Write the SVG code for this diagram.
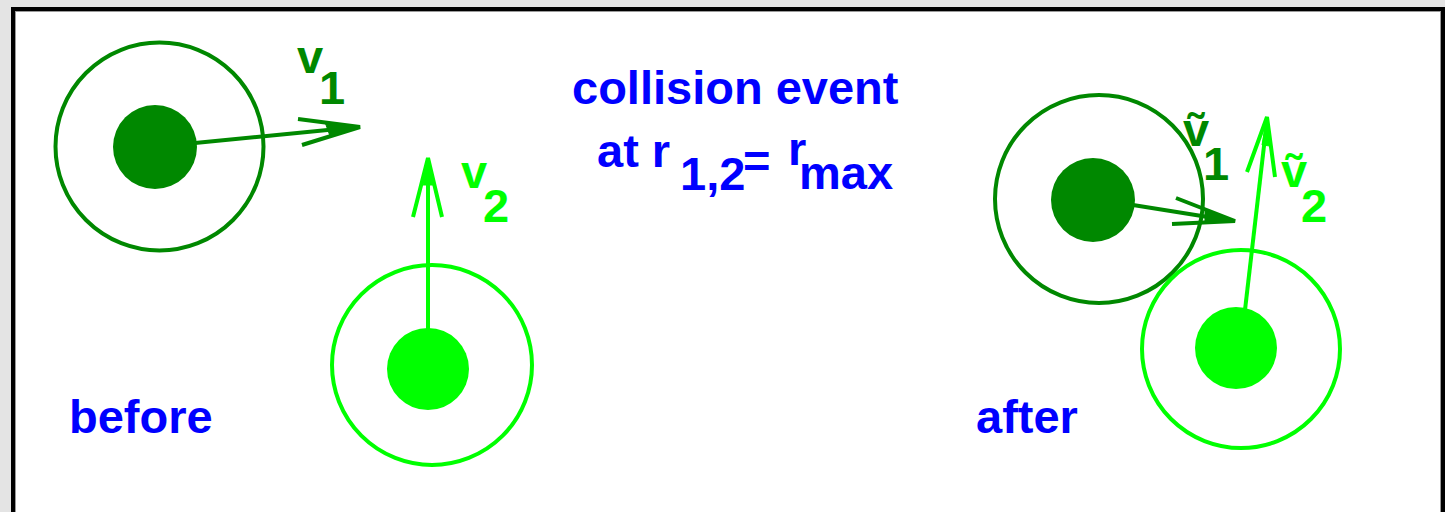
<svg xmlns="http://www.w3.org/2000/svg" width="1445" height="512" viewBox="0 0 1445 512">
<style>
.t{font-family:"Liberation Sans","DejaVu Sans",Arial,sans-serif;font-weight:bold;font-size:47px}
.blue{fill:#0000ff}
.dg{fill:#008800}
.lg{fill:#00ff00}
.ring{fill:none;stroke-width:4}
.ln{fill:none;stroke-width:4;stroke-linecap:butt;stroke-linejoin:miter}
</style>
<rect x="0" y="0" width="1445" height="512" fill="#e4e4e4"/>
<rect x="13" y="9" width="1430" height="600" fill="#ffffff" stroke="#000000" stroke-width="4"/>
<rect x="15.5" y="11.5" width="1425" height="600" fill="none" stroke="#9a9a9a" stroke-width="1"/>

<g id="before-particle1">
  <circle class="ring" cx="159.5" cy="146.5" r="104" stroke="#008800"/>
  <circle cx="155" cy="147" r="42" fill="#008800"/>
</g>
<g id="before-particle2">
  <circle class="ring" cx="432" cy="365" r="100" stroke="#00ff00"/>
  <circle cx="428" cy="369" r="41" fill="#00ff00"/>
</g>
<g id="after-particle1">
  <circle class="ring" cx="1099" cy="199" r="104" stroke="#008800"/>
  <circle cx="1093" cy="200" r="42" fill="#008800"/>
</g>
<g id="after-particle2">
  <circle class="ring" cx="1241" cy="349" r="99" stroke="#00ff00"/>
  <circle cx="1236" cy="348" r="41" fill="#00ff00"/>
</g>

<g id="connectors">
  <g stroke="#008800" class="ln">
    <line x1="195" y1="143" x2="358" y2="127"/>
    <polyline points="298,119 360,127 302,145"/>
    <path d="M325,122 L360,127 L330,136 Z" fill="#008800" stroke-width="1"/>
  </g>
  <g stroke="#00ff00" class="ln">
    <line x1="428" y1="330" x2="428" y2="160"/>
    <polyline points="413,217 428,158 442,217"/>
    <path d="M423,185 L428,158 L433,185 Z" fill="#00ff00" stroke-width="1"/>
  </g>
  <g stroke="#008800" class="ln">
    <line x1="1133" y1="205" x2="1233" y2="221"/>
    <polyline points="1176,198 1235,221 1172,224"/>
    <path d="M1205,210 L1235,221 L1205,222 Z" fill="#008800" stroke-width="1"/>
  </g>
  <g stroke="#00ff00" class="ln">
    <line x1="1245" y1="310" x2="1267" y2="120"/>
    <polyline points="1247,172 1267,117 1275,177"/>
    <path d="M1262,145 L1267,117 L1270,146 Z" fill="#00ff00" stroke-width="1"/>
  </g>
</g>

<g id="labels">
  <text class="t dg" x="297" y="73">v</text>
  <text class="t dg" x="319" y="104">1</text>
  <text class="t lg" x="461" y="188">v</text>
  <text class="t lg" x="483" y="222">2</text>
  <text class="t dg" x="1183" y="146">ṽ</text>
  <text class="t dg" x="1203" y="180">1</text>
  <text class="t lg" x="1281" y="187">ṽ</text>
  <text class="t lg" x="1301" y="222">2</text>

  <text class="t blue" x="572" y="104">collision event</text>
  <text class="t blue" x="597" y="167">at r</text>
  <text class="t blue" x="680" y="190">1,2</text>
  <text class="t blue" x="743" y="177">=</text>
  <text class="t blue" x="788" y="165">r</text>
  <text class="t blue" x="799" y="189">max</text>

  <text class="t blue" x="69" y="433">before</text>
  <text class="t blue" x="976" y="433">after</text>
</g>
</svg>
